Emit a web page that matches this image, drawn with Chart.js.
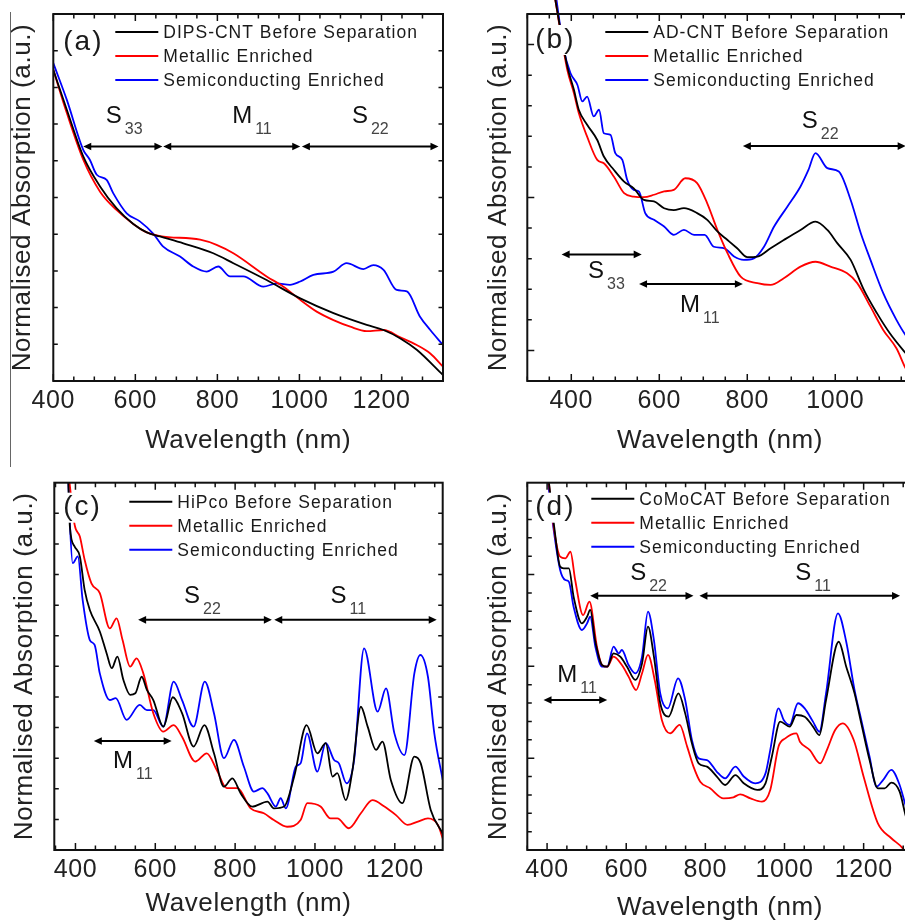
<!DOCTYPE html>
<html>
<head>
<meta charset="utf-8">
<script src="https://cdn.jsdelivr.net/npm/chart.js@4.4.0/dist/chart.umd.min.js"></script>
<style>
  html, body { margin: 0; padding: 0; background: #fff; width: 905px; height: 920px; overflow: hidden; }
  canvas { position: absolute; }
  #rule { position: absolute; left: 10px; top: 12px; width: 1px; height: 455px; background: #666; }
</style>
</head>
<body>
<div id="rule"></div>
<canvas id="panel-a"></canvas>
<canvas id="panel-b"></canvas>
<canvas id="panel-c"></canvas>
<canvas id="panel-d"></canvas>
<script>
// Absorption spectra, [wavelength nm, normalised absorption a.u.]
const dipsBefore = [[400,8.48],[433,7.39],[473,6.12],[514,5.3],[554,4.71],[595,4.28],[628,4.05],[660,3.94],[717,3.75],[790,3.48],[839,3.21],[920,2.75],[1002,2.25],[1083,1.85],[1164,1.53],[1205,1.39],[1246,1.16],[1286,0.85],[1350,0.16]];
const dipsMetal = [[400,8.48],[433,7.3],[473,6.03],[514,5.16],[554,4.66],[595,4.28],[628,4.05],[660,3.95],[758,3.85],[798,3.71],[839,3.48],[920,2.85],[961,2.57],[1002,2.21],[1042,1.89],[1083,1.66],[1124,1.48],[1164,1.36],[1205,1.39],[1246,1.19],[1286,0.98],[1319,0.75],[1350,0.39]];
const dipsSemi = [[400,8.66],[433,7.66],[473,6.3],[489,6.03],[506,5.62],[530,5.48],[546,5.12],[579,4.57],[611,4.35],[644,4.01],[668,3.66],[709,3.39],[741,3.12],[774,2.98],[802,3.12],[831,2.85],[863,2.85],[912,2.57],[945,2.66],[977,2.62],[1002,2.71],[1034,2.89],[1083,2.98],[1115,3.21],[1156,3.05],[1180,3.16],[1205,3.03],[1237,2.48],[1262,2.44],[1294,1.75],[1319,1.39],[1350,0.98]];

const adBefore = [[362,12.6],[391,10.28],[406,9.52],[417,8.87],[436,8.38],[459,7.88],[474,7.34],[497,6.9],[520,6.52],[542,6.3],[565,5.92],[588,5.87],[611,5.65],[633,5.59],[656,5.65],[686,5.49],[709,5.27],[732,4.89],[755,4.61],[777,4.34],[800,4.05],[823,4.07],[853,4.34],[883,4.61],[921,4.94],[955,5.21],[982,4.94],[1005,4.5],[1035,3.96],[1065,2.98],[1095,2.21],[1124,1.56],[1160,0.91],[1176,0.65]];
const adMetal = [[362,12.6],[391,10.17],[406,9.41],[417,8.76],[436,7.99],[459,7.23],[474,7.12],[497,6.68],[520,6.14],[542,6.03],[565,6.01],[588,6.09],[611,6.2],[633,6.25],[659,6.63],[686,6.47],[709,5.81],[732,4.94],[755,4.18],[785,3.41],[823,3.2],[853,3.14],[883,3.36],[921,3.74],[955,3.9],[989,3.74],[1027,3.52],[1050,3.2],[1080,2.43],[1109,1.67],[1139,1.07],[1160,0.41],[1176,0.02]];
const adSemi = [[365,12.6],[383,10.83],[398,10.07],[414,9.68],[425,9.14],[436,9.3],[451,8.65],[463,8.87],[474,8.1],[489,8.05],[500,7.45],[516,7.23],[527,6.58],[542,6.25],[554,6.19],[568,5.49],[588,5.27],[611,5.05],[633,4.78],[656,4.94],[679,4.78],[703,4.78],[724,4.39],[748,4.34],[770,4.07],[792,3.96],[815,4.01],[838,4.39],[861,5.05],[891,5.7],[921,6.36],[939,6.9],[955,7.45],[982,6.96],[1008,6.85],[1035,5.92],[1058,4.83],[1080,3.96],[1109,2.87],[1139,2.0],[1160,1.5],[1176,1.25]];

const hipcoBefore = [[381,12.5],[386,10.57],[398,9.91],[411,9.59],[423,8.5],[436,7.84],[461,7.14],[478,6.43],[491,5.94],[505,6.32],[520,5.56],[537,5.07],[550,5.12],[566,5.66],[579,5.23],[595,4.9],[620,4.03],[644,4.99],[667,4.47],[696,3.38],[723,4.08],[747,3.16],[772,2.07],[793,2.34],[814,1.85],[843,1.42],[881,1.58],[897,1.36],[923,1.42],[948,2.4],[979,4.08],[1006,3.16],[1027,3.49],[1044,2.4],[1056,2.51],[1077,1.63],[1094,2.61],[1115,4.68],[1132,4.03],[1153,3.27],[1169,3.54],[1190,2.29],[1219,1.53],[1249,3.05],[1265,2.83],[1290,1.31],[1320,0.54]];
const hipcoMetal = [[381,12.5],[398,10.62],[411,10.24],[423,9.48],[440,8.71],[461,8.39],[486,7.24],[503,7.57],[518,6.86],[537,5.99],[553,6.26],[570,5.77],[595,4.47],[620,3.87],[646,4.08],[667,3.7],[700,2.89],[729,3.16],[754,2.61],[779,2.02],[806,2.02],[839,1.36],[872,1.2],[897,0.98],[930,0.76],[964,0.98],[981,1.53],[1014,1.42],[1039,1.03],[1056,1.03],[1085,0.71],[1115,1.2],[1144,1.63],[1174,1.42],[1203,1.14],[1232,0.82],[1258,0.93],[1283,1.03],[1308,0.82],[1320,0.38]];
const hipcoSemi = [[381,12.5],[386,10.68],[393,9.37],[406,9.59],[418,8.17],[436,6.86],[448,6.7],[461,5.77],[486,4.9],[501,4.96],[528,4.25],[561,4.74],[579,4.57],[595,4.57],[620,4.03],[646,5.5],[667,4.9],[696,4.03],[724,5.5],[747,4.47],[772,3.0],[797,3.6],[822,2.72],[847,1.91],[868,2.02],[881,1.85],[902,1.42],[914,1.69],[927,1.36],[952,2.72],[964,2.83],[980,3.81],[1006,2.56],[1027,3.49],[1048,2.94],[1060,2.83],[1079,2.18],[1098,2.94],[1123,6.59],[1157,4.52],[1178,5.28],[1199,3.81],[1224,3.1],[1249,5.77],[1264,6.37],[1283,5.66],[1299,3.81],[1320,2.29]];

const comocatBefore = [[402,20.5],[418,17.6],[433,15.43],[442,15.34],[455,15.34],[467,13.79],[488,12.34],[501,12.7],[509,13.07],[522,11.34],[539,10.07],[552,9.98],[568,10.71],[585,10.53],[602,9.98],[623,9.26],[640,10.16],[655,12.16],[670,10.53],[686,7.99],[707,7.26],[732,8.53],[749,7.44],[766,5.81],[783,4.72],[804,4.54],[829,4.0],[850,3.54],[876,4.08],[897,3.63],[931,3.27],[952,3.63],[968,5.08],[989,6.99],[1013,6.72],[1030,7.35],[1051,7.26],[1072,6.72],[1088,6.26],[1105,8.17],[1137,11.34],[1156,9.98],[1177,8.53],[1194,6.9],[1215,4.9],[1236,3.36],[1253,3.36],[1270,3.67],[1291,3.18],[1307,1.81],[1324,0.8]];
const comocatMetal = [[402,20.5],[418,17.4],[433,15.97],[446,15.88],[459,16.24],[471,14.7],[491,12.79],[507,13.52],[526,11.07],[539,10.07],[552,9.98],[568,10.53],[589,10.07],[606,9.44],[625,8.71],[640,9.62],[655,10.62],[672,9.26],[690,7.08],[711,6.35],[735,6.81],[754,5.63],[770,4.54],[787,3.72],[812,3.36],[846,2.81],[871,2.87],[888,3.03],[914,2.81],[943,2.63],[964,3.27],[985,5.63],[1002,6.08],[1030,6.35],[1039,5.9],[1064,5.44],[1090,4.72],[1107,5.44],[1128,6.53],[1147,6.9],[1175,5.99],[1200,3.99],[1236,1.45],[1270,0.64],[1299,0.09],[1324,-0.8]];
const comocatSemi = [[400,20.5],[415,17.7],[433,15.25],[446,14.7],[455,14.61],[467,13.25],[488,11.98],[501,12.34],[509,12.7],[522,11.07],[539,9.98],[552,9.98],[568,11.07],[581,10.71],[589,10.89],[606,10.07],[623,9.62],[640,10.53],[655,12.98],[670,11.43],[686,8.53],[705,7.71],[731,9.35],[749,8.17],[766,5.99],[783,4.99],[804,4.9],[829,4.26],[850,3.9],[876,4.54],[897,4.0],[926,3.63],[952,4.17],[964,5.44],[985,7.71],[998,7.08],[1013,6.81],[1034,7.99],[1051,7.71],[1072,6.99],[1088,6.44],[1105,8.53],[1135,12.89],[1156,11.34],[1177,8.71],[1194,7.08],[1215,5.08],[1232,3.45],[1249,3.81],[1270,4.36],[1291,3.54],[1307,2.36],[1324,1.4]];

const seriesNames = {
  a: ['DIPS-CNT Before Separation', 'Metallic Enriched', 'Semiconducting Enriched'],
  b: ['AD-CNT Before Separation', 'Metallic Enriched', 'Semiconducting Enriched'],
  c: ['HiPco Before Separation', 'Metallic Enriched', 'Semiconducting Enriched'],
  d: ['CoMoCAT Before Separation', 'Metallic Enriched', 'Semiconducting Enriched']
};

// transition bands: arrow span (nm) at height y, label anchored at (tx, ty)
const bandsA = [
  { name: 'S', sub: '33', from: 473, to: 666, y: 6.39, tx: 528, ty: 7.03 },
  { name: 'M', sub: '11', from: 668, to: 1002, y: 6.39, tx: 836, ty: 7.03 },
  { name: 'S', sub: '22', from: 1006, to: 1339, y: 6.39, tx: 1128, ty: 7.03 }
];
const bandsB = [
  { name: 'S', sub: '22', from: 790, to: 1160, y: 7.68, tx: 924, ty: 8.27 },
  { name: 'S', sub: '33', from: 378, to: 560, y: 4.14, tx: 438, ty: 3.37 },
  { name: 'M', sub: '11', from: 554, to: 790, y: 3.17, tx: 647, ty: 2.25 }
];
const bandsC = [
  { name: 'S', sub: '22', from: 557, to: 892, y: 7.52, tx: 672, ty: 8.06 },
  { name: 'S', sub: '11', from: 898, to: 1305, y: 7.52, tx: 1039, ty: 8.06 },
  { name: 'M', sub: '11', from: 446, to: 641, y: 3.56, tx: 494, ty: 2.68 }
];
const bandsD = [
  { name: 'S', sub: '22', from: 509, to: 770, y: 13.84, tx: 610, ty: 14.7 },
  { name: 'S', sub: '11', from: 785, to: 1292, y: 13.84, tx: 1027, ty: 14.7 },
  { name: 'M', sub: '11', from: 391, to: 552, y: 8.17, tx: 426, ty: 9.16 }
];

const xTicksA = [400, 600, 800, 1000, 1200];
const xTicksB = [400, 600, 800, 1000];
const xTicksC = [400, 600, 800, 1000, 1200];
const xTicksD = [400, 600, 800, 1000, 1200];

const colors = ['#000000', '#ff0000', '#0000ff'];
const FONT = "'Liberation Sans', Arial, sans-serif";

const panels = [
  { id: 'a', el: 'panel-a', pos: [0, 0, 452, 460], pad: { left: 0, top: 14, right: 9, bottom: 0 }, yw: 53.3, xh: 79, tpad: 4,
    x: [400, 1350], y: [0, 10], yMajor: [], series: [dipsBefore, dipsMetal, dipsSemi], bands: bandsA, ticks: xTicksA,
    legend: [62, 18], tag: [10, 28], clipTop: true },
  { id: 'b', el: 'panel-b', pos: [452, 0, 470, 460], pad: { left: 24, top: 14, right: 9.3, bottom: 0 }, yw: 51.3, xh: 79, tpad: 4,
    x: [300, 1176], y: [0, 12], yMajor: [1, 6, 11], series: [adBefore, adMetal, adSemi], bands: bandsB, ticks: xTicksB,
    legend: [78, 18], tag: [8, 26], clipTop: false },
  { id: 'c', el: 'panel-c', pos: [0, 460, 452, 460], pad: { left: 2, top: 22.7, right: 9.3, bottom: 0 }, yw: 52.3, xh: 70, tpad: 1,
    x: [347, 1320], y: [0, 12], yMajor: [], series: [hipcoBefore, hipcoMetal, hipcoSemi], bands: bandsC, ticks: xTicksC,
    legend: [75, 19], tag: [9, 25], clipTop: true },
  { id: 'd', el: 'panel-d', pos: [452, 460, 470, 464], pad: { left: 24, top: 22.7, right: 9.3, bottom: 0 }, yw: 51.3, xh: 74, tpad: 1,
    x: [350, 1324], y: [0, 20], yMajor: [0, 5, 10, 15, 20], series: [comocatBefore, comocatMetal, comocatSemi], bands: bandsD, ticks: xTicksD,
    legend: [64, 16], tag: [8, 25], clipTop: true }
];

function drawArrow(ctx, x1, x2, y) {
  const head = 8, half = 3.8;
  ctx.beginPath();
  ctx.moveTo(x1 + head - 1, y);
  ctx.lineTo(x2 - head + 1, y);
  ctx.stroke();
  ctx.beginPath();
  ctx.moveTo(x1, y); ctx.lineTo(x1 + head, y - half); ctx.lineTo(x1 + head, y + half); ctx.closePath();
  ctx.moveTo(x2, y); ctx.lineTo(x2 - head, y - half); ctx.lineTo(x2 - head, y + half); ctx.closePath();
  ctx.fill();
}

// frame, inward ticks, band arrows, panel tag and legend
const decor = {
  id: 'decor',
  beforeDraw(chart) {
    chart.ctx.letterSpacing = '0.6px';
  },
  afterDatasetsDraw(chart, args, opts) {
    const p = opts.panel;
    const { ctx, chartArea: ca } = chart;
    const xs = chart.scales.x, ys = chart.scales.y;
    ctx.save();
    ctx.strokeStyle = '#111';
    ctx.fillStyle = '#111';

    ctx.lineWidth = 1.5;
    ctx.beginPath();
    for (let v = Math.ceil(xs.min / 50) * 50; v <= xs.max; v += 50) {
      const px = xs.getPixelForValue(v);
      const len = v % 200 === 0 ? 7 : 4.5;
      ctx.moveTo(px, ca.bottom); ctx.lineTo(px, ca.bottom - len);
      ctx.moveTo(px, ca.top); ctx.lineTo(px, ca.top + len);
    }
    for (let v = ys.min + 1; v < ys.max; v++) {
      const py = ys.getPixelForValue(v);
      const len = p.yMajor.includes(v) ? 7 : 4.5;
      ctx.moveTo(ca.left, py); ctx.lineTo(ca.left + len, py);
      ctx.moveTo(ca.right, py); ctx.lineTo(ca.right - len, py);
    }
    ctx.stroke();

    ctx.lineWidth = 2;
    ctx.strokeRect(ca.left, ca.top, ca.right - ca.left, ca.bottom - ca.top);

    ctx.strokeStyle = '#000';
    ctx.fillStyle = '#000';
    ctx.lineWidth = 2;
    p.bands.forEach(b => {
      drawArrow(ctx, xs.getPixelForValue(b.from), xs.getPixelForValue(b.to), ys.getPixelForValue(b.y));
      const tx = xs.getPixelForValue(b.tx), ty = ys.getPixelForValue(b.ty);
      ctx.letterSpacing = '0px';
      ctx.textAlign = 'left';
      ctx.textBaseline = 'alphabetic';
      ctx.font = `24px ${FONT}`;
      ctx.fillStyle = '#111';
      ctx.fillText(b.name, tx, ty);
      const w = ctx.measureText(b.name).width;
      ctx.font = `16px ${FONT}`;
      ctx.fillStyle = '#444';
      ctx.fillText(b.sub, tx + w + 3, ty + 11);
      ctx.fillStyle = '#000';
    });

    // panel tag on a white patch so the steep curves pass behind it
    ctx.font = `28px ${FONT}`;
    ctx.letterSpacing = '2px';
    ctx.textBaseline = 'middle';
    const tag = `(${p.id})`;
    const tw = ctx.measureText(tag).width;
    const gx = ca.left + p.tag[0], gy = ca.top + p.tag[1];
    ctx.fillStyle = '#fff';
    ctx.fillRect(gx - 1, gy - 15, tw + 2, 30);
    ctx.fillStyle = '#1a1a1a';
    ctx.fillText(tag, gx, gy);

    ctx.font = `17.5px ${FONT}`;
    ctx.letterSpacing = '1px';
    chart.data.datasets.forEach((ds, i) => {
      const lx = ca.left + p.legend[0], ly = ca.top + p.legend[1] + i * 24;
      ctx.strokeStyle = ds.borderColor;
      ctx.lineWidth = 2;
      ctx.beginPath();
      ctx.moveTo(lx, ly); ctx.lineTo(lx + 43, ly);
      ctx.stroke();
      ctx.fillStyle = '#1a1a1a';
      ctx.fillText(ds.label, lx + 48, ly + 1);
    });
    ctx.restore();
  }
};

panels.forEach(p => {
  const canvas = document.getElementById(p.el);
  const [left, top, w, h] = p.pos;
  canvas.width = w; canvas.height = h;
  canvas.style.left = left + 'px';
  canvas.style.top = top + 'px';
  canvas.style.width = w + 'px';
  canvas.style.height = h + 'px';

  new Chart(canvas.getContext('2d'), {
    type: 'line',
    data: {
      datasets: p.series.map((s, i) => ({
        label: seriesNames[p.id][i],
        data: s.map(([x, y]) => ({ x, y })),
        borderColor: colors[i],
        borderWidth: 1.8,
        pointRadius: 0,
        cubicInterpolationMode: 'monotone',
        clip: p.clipTop ? 0 : { left: 0, top: false, right: 0, bottom: 0 }
      }))
    },
    options: {
      responsive: false,
      animation: false,
      devicePixelRatio: 1,
      layout: { padding: p.pad },
      plugins: { legend: { display: false }, tooltip: { enabled: false }, decor: { panel: p } },
      scales: {
        x: {
          type: 'linear',
          min: p.x[0], max: p.x[1],
          afterBuildTicks: s => { s.ticks = p.ticks.map(v => ({ value: v })); },
          afterFit: s => { s.height = p.xh; },
          grid: { display: false, drawTicks: false },
          border: { display: false },
          ticks: { autoSkip: false, maxRotation: 0, padding: 5, color: '#222', font: { family: FONT, size: 25 },
                   callback: v => String(v) },
          title: { display: true, text: 'Wavelength (nm)', color: '#222', padding: { top: 0, bottom: p.tpad }, font: { family: FONT, size: 26 } }
        },
        y: {
          min: p.y[0], max: p.y[1],
          afterFit: s => { s.width = p.yw; },
          grid: { display: false, drawTicks: false },
          border: { display: false },
          ticks: { display: false },
          title: { display: true, text: 'Normalised Absorption (a.u.)', color: '#222', padding: { top: 7, bottom: 0 }, font: { family: FONT, size: 26 } }
        }
      }
    },
    plugins: [decor]
  });
});
</script>
</body>
</html>
